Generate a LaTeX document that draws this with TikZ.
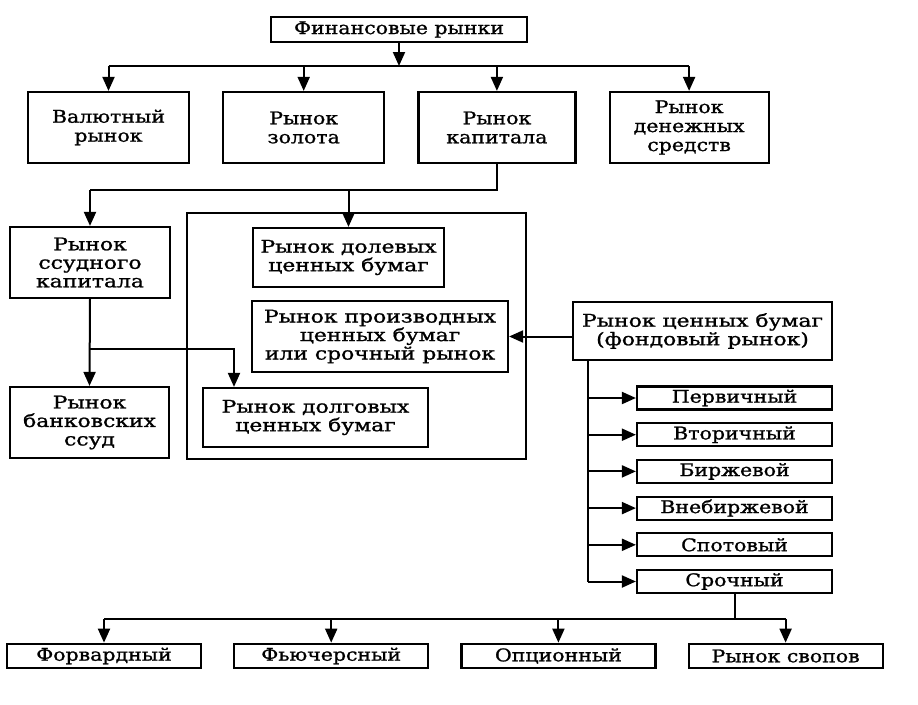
\documentclass[tikz,border=0pt]{standalone}
\usepackage{fontspec}
\setmainfont[FakeStretch=1.17,FakeBold=1.2]{DejaVu Serif}
\newfontfamily\widefont[FakeStretch=1.25,FakeBold=1.2]{DejaVu Serif}
\usetikzlibrary{positioning,arrows.meta}
\tikzstyle{block}=[draw,line width=2.2pt,align=center,inner sep=2pt,font=\fontsize{17.5}{19}\selectfont]
\tikzstyle{wideblock}=[block,font=\widefont\fontsize{17.5}{18.5}\selectfont]
\tikzstyle{wire}=[line width=2pt]
\newcommand{\newBlock}[5]{\node[block,minimum width=#3pt,minimum height=#4pt](#1)[#5]{#2};}
\newcommand{\newWideBlock}[5]{\node[wideblock,minimum width=#3pt,minimum height=#4pt](#1)[#5]{#2};}

\begin{document}
\begin{tikzpicture}[x=1pt,y=-1pt,
      >={Triangle[length=14pt,width=12pt]},
      wire  %line width of all connectors
      ]
      \useasboundingbox (0,0) rectangle (918,704);
      \newBlock{fin}{Финансовые рынки}{256}{25}{at={(399,29.5)}}
      \newBlock{val}{Валютный\\рынок}{161}{71}{at={(108.5,127.5)}}
      \newBlock{gold}{Рынок\\золота}{161}{71}{right=32pt of val}
      \newBlock{cap}{Рынок\\капитала}{157}{71}{right=32pt of gold}
      \newBlock{money}{Рынок\\денежных\\средств}{159}{71}{right=32pt of cap}
      \newWideBlock{ssud}{Рынок\\ссудного\\капитала}{160}{71}{at={(90,262.5)}}
      \newWideBlock{bank}{Рынок\\банковских\\ссуд}{159}{71}{at={(89.5,422.5)}}
      \newWideBlock{dolev}{Рынок долевых\\ценных бумаг}{191}{59}{at={(348.5,257.5)}}
      \newWideBlock{proizv}{Рынок производных\\ценных бумаг\\или срочный рынок}{256}{71}{at={(380,336.5)}}
      \newWideBlock{dolg}{Рынок долговых\\ценных бумаг}{225}{59}{at={(315.5,417.5)}}
      \newWideBlock{fond}{Рынок ценных бумаг\\(фондовый рынок)}{259}{58}{at={(702.5,331)}}
      \newBlock{perv}{Первичный}{195}{23}{at={(734.5,398)}}
      \begin{scope}[node distance=11.5pt]
        \newBlock{vtor}{Вторичный}{195}{23}{below=of perv}
        \newBlock{birzh}{Биржевой}{195}{23}{below=of vtor}
        \newBlock{vnebirzh}{Внебиржевой}{195}{23}{below=of birzh}
        \newBlock{spot}{Спотовый}{195}{23}{below=of vnebirzh}
        \newBlock{srok}{Срочный}{195}{23}{below=of spot}
      \end{scope}
      \newBlock{fwd}{Форвардный}{194}{24.5}{at={(104,656)}}
      \newBlock{fut}{Фьючерсный}{194}{24.5}{right=31pt of fwd}
      \newBlock{opt}{Опционный}{194}{24.5}{right=31pt of fut}
      \newBlock{swap}{Рынок свопов}{194}{24.5}{right=31pt of opt}
      % frame round the securities markets
      \draw (187,213) rectangle (526,459);
      % top level
      \coordinate (bus1) at (0,66);
      \draw[->] (fin.south) -- (fin.south |- bus1);
      \draw (val.north |- bus1) -- (money.north |- bus1);
      \foreach \n in {val,gold,cap,money}
        \draw[->] (\n.north |- bus1) -- (\n.north);
      % capital market
      \coordinate (bus2) at (0,190);
      \draw (cap.south) -- (cap.south |- bus2) -- (ssud.north |- bus2);
      \draw[->] (ssud.north |- bus2) -- (ssud.north);
      \draw[->] (dolev.north |- bus2) -- (dolev.north);
      \coordinate (br) at (234,349);
      \draw[->] (ssud.south) -- (bank.north);
      \draw[->] (ssud.south |- br) -- (br) -- (br |- dolg.north);
      % stock market
      \draw[->] (fond.west |- proizv.east) -- (proizv.east);
      \coordinate (trunk) at (588,0);
      \draw (trunk |- fond.south) -- (trunk |- srok.west);
      \foreach \n in {perv,vtor,birzh,vnebirzh,spot,srok}
        \draw[->] (trunk |- \n.west) -- (\n.west);
      % derivatives
      \coordinate (bus3) at (0,619);
      \draw (srok.south) -- (srok.south |- bus3);
      \draw (fwd.north |- bus3) -- (swap.north |- bus3);
      \foreach \n in {fwd,fut,opt,swap}
        \draw[->] (\n.north |- bus3) -- (\n.north);
    \end{tikzpicture}
\end{document}
